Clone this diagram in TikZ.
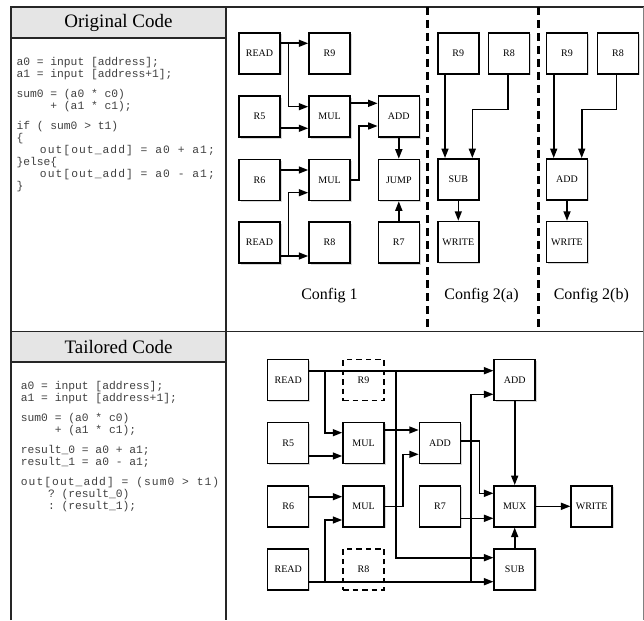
\documentclass[tikz,border=0pt]{standalone}
\usepackage{fontspec}
\setmainfont{Liberation Serif}
\setmonofont{Liberation Mono}
\usetikzlibrary{arrows.meta,shadows}
\newcommand{\wideln}[1]{{\addfontfeature{LetterSpace=9.3}#1}}
\tikzset{
  frame/.style={line width=1.6pt, draw=black!85},
  hdr/.style={fill=black!10, draw=black!85, line width=1.6pt},
  blk/.style={draw=black, line width=1.5pt, fill=white, minimum size=41pt, inner sep=0pt,
    font=\fontsize{10}{12}\selectfont,
    drop shadow={opacity=0.3, shadow xshift=1.6pt, shadow yshift=-1.6pt}},
  ghost/.style={draw=black, line width=1.5pt, dash pattern=on 5.5pt off 4pt, minimum size=41pt,
    inner sep=0pt, font=\fontsize{10}{12}\selectfont},
  arr/.style={line width=1.6pt, -{Triangle[length=9.5pt,width=7pt]}},
  sep/.style={line width=2.6pt, dash pattern=on 8pt off 5pt},
  code/.style={font={\fontsize{11.3}{12}\selectfont\ttfamily\lineskiplimit=-20pt},
    text=black!75, align=left, inner sep=0pt, anchor=north west},
  ttl/.style={font=\fontsize{19}{22}\selectfont},
  cfg/.style={font=\fontsize{16}{18}\selectfont}
}
\begin{document}
\begin{tikzpicture}[x=1pt,y=-1pt]
\useasboundingbox (0,0) rectangle (644,620);
\fill[white] (0,0) rectangle (644,620);
% frame
\path[hdr] (11,7) rectangle (226,38);
\path[hdr] (11,331.5) rectangle (226,362);
\draw[frame] (11,620) -- (11,7) -- (644,7);
\draw[frame] (226,7) -- (226,620);
\draw[frame] (11,331.5) -- (644,331.5);
\draw[black!50, line width=0.8pt] (643.6,7) -- (643.6,620);
\node[ttl] (t1) at (118.5,22.5) {Original Code};
\node[ttl] (t2) at (118.5,347) {Tailored Code};
% separators
\coordinate (s1a) at (427.3,7); \coordinate (s1b) at (427.3,331.5);
\coordinate (s2a) at (538.3,7); \coordinate (s2b) at (538.3,331.5);
\draw[sep] (s1a) -- (s1b);
\draw[sep] (s2a) -- (s2b);
% code
\node[code] (code1) at (16.3,57.5) {a0 = input [address];\\
a1 = input [address+1];\\[8pt]
sum0 = (a0 * c0)\\
~~~~~+ (a1 * c1);\\[8pt]
if ( sum0 > t1)\\
\{\\
\wideln{~~~out[out\_add] = a0 + a1;}\\
\}else\{\\
\wideln{~~~out[out\_add] = a0 - a1;}\\
\}};
\node[code] (code2) at (20.7,381.5) {a0 = input [address];\\
a1 = input [address+1];\\[8pt]
sum0 = (a0 * c0)\\
~~~~~+ (a1 * c1);\\[8pt]
result\_0 = a0 + a1;\\
result\_1 = a0 - a1;\\[8pt]
\wideln{out[out\_add] = (sum0 > t1)}\\
~~~~? (result\_0)\\
~~~~: (result\_1);};
% ---------- Config 1 ----------
\node[blk] (c1read1) at (259.5,53.3) {READ};
\node[blk] (c1r9)    at (329.5,53.3) {R9};
\node[blk] (c1r5)    at (259.5,116.7) {R5};
\node[blk] (c1mul1)  at (329.5,116.7) {MUL};
\node[blk] (c1add)   at (398.8,116.7) {ADD};
\node[blk] (c1r6)    at (259.5,180) {R6};
\node[blk] (c1mul2)  at (329.5,180) {MUL};
\node[blk] (c1jump)  at (398.8,180) {JUMP};
\node[blk] (c1read2) at (259.5,242.7) {READ};
\node[blk] (c1r8)    at (329.5,242.7) {R8};
\node[blk] (c1r7)    at (398.8,242.7) {R7};
\coordinate (j1) at (288.3,43.3);
\coordinate (j2) at (288.3,256);
\draw[arr] ([yshift=10pt]c1read1.east) -- ([yshift=10pt]c1r9.west);
\draw[arr] (j1) |- ([yshift=10pt]c1mul1.west);
\draw[arr] ([yshift=-11.6pt]c1r5.east) -- ([yshift=-11.6pt]c1mul1.west);
\draw[arr] ([yshift=13.4pt]c1mul1.east) -- ([yshift=13.4pt]c1add.west);
\draw[arr] (c1mul2.east) -- ++(8,0) |- ([yshift=-9.3pt]c1add.west);
\draw[arr] ([yshift=10pt]c1r6.east) -- ([yshift=10pt]c1mul2.west);
\draw[arr] ([yshift=-13.3pt]c1read2.east) -- ([yshift=-13.3pt]c1r8.west);
\draw[arr] (j2) |- ([yshift=-12.7pt]c1mul2.west);
\draw[arr] (c1add.south) -- (c1jump.north);
\draw[arr] (c1r7.north) -- (c1jump.south);
\node[cfg] (l1) at (329.5,296) {Config 1};
% ---------- Config 2(a) ----------
\node[blk] (c2ar9) at (458.3,53.3) {R9};
\node[blk] (c2ar8) at (509,53.3) {R8};
\node[blk] (c2asub) at (458.3,179.3) {SUB};
\node[blk] (c2awr) at (458.3,242) {WRITE};
\draw[arr] ([xshift=-13.3pt]c2ar9.south) -- ([xshift=-13.3pt]c2asub.north);
\draw[arr] ([xshift=-1.3pt]c2ar8.south) -- ++(0,35) -| ([xshift=14pt]c2asub.north);
\draw[arr] (c2asub.south) -- (c2awr.north);
\node[cfg] (l2) at (481.5,296) {Config 2(a)};
% ---------- Config 2(b) ----------
\node[blk] (c2br9) at (567,53.3) {R9};
\node[blk] (c2br8) at (618,53.3) {R8};
\node[blk] (c2badd) at (567,179.3) {ADD};
\node[blk] (c2bwr) at (567,242) {WRITE};
\draw[arr] ([xshift=-13.3pt]c2br9.south) -- ([xshift=-13.3pt]c2badd.north);
\draw[arr] ([xshift=-1.7pt]c2br8.south) -- ++(0,35) -| ([xshift=14.7pt]c2badd.north);
\draw[arr] (c2badd.south) -- (c2bwr.north);
\node[cfg] (l3) at (591.3,296) {Config 2(b)};
% ---------- Tailored ----------
\node[blk] (bread1) at (288.2,380) {READ};
\node[ghost] (br9) at (363.5,380) {R9};
\node[blk] (baddt) at (514.7,380) {ADD};
\node[blk] (br5) at (288.2,443) {R5};
\node[blk] (bmul1) at (363.5,443) {MUL};
\node[blk] (badd2) at (440,443) {ADD};
\node[blk] (br6) at (288.2,506.3) {R6};
\node[blk] (bmul2) at (363.5,506.3) {MUL};
\node[blk] (br7) at (440,506.3) {R7};
\node[blk] (bmux) at (514.7,506.3) {MUX};
\node[blk] (bwr) at (591.7,506.3) {WRITE};
\node[blk] (bread2) at (288.2,569.3) {READ};
\node[ghost] (br8) at (363.5,569.3) {R8};
\node[blk] (bsub) at (514.7,569.3) {SUB};
\coordinate (k1) at (325,370.7);
\coordinate (k2) at (395.7,370.7);
\coordinate (k3) at (325,581.7);
\coordinate (k4) at (470.7,581.7);
\draw[arr] ([yshift=9.3pt]bread1.east) -- ([yshift=9.3pt]baddt.west);
\draw[arr] (k1) |- ([yshift=10.3pt]bmul1.west);
\draw[arr] (k2) |- ([yshift=11.6pt]bsub.west);
\draw[arr] ([yshift=-13pt]br5.east) -- ([yshift=-13pt]bmul1.west);
\draw[arr] ([yshift=13pt]bmul1.east) -- ([yshift=13pt]badd2.west);
\draw[arr] (bmul2.east) -- ++(18.5,0) |- ([yshift=-11.3pt]badd2.west);
\draw[arr] ([yshift=9.6pt]br6.east) -- ([yshift=9.6pt]bmul2.west);
\draw[arr] ([yshift=-12.4pt]bread2.east) -- ([yshift=-12.4pt]bsub.west);
\draw[arr] (k3) |- ([yshift=-13.7pt]bmul2.west);
\draw[arr] (k4) |- ([yshift=-14.3pt]baddt.west);
\draw[arr] ([yshift=2pt]badd2.east) -- ++(18.3,0) |- ([yshift=13pt]bmux.west);
\draw[arr] ([yshift=-12pt]br7.east) -- ([yshift=-12pt]bmux.west);
\draw[arr] (baddt.south) -- (bmux.north);
\draw[arr] (bsub.north) -- (bmux.south);
\draw[arr] (bmux.east) -- (bwr.west);
\end{tikzpicture}
\end{document}
